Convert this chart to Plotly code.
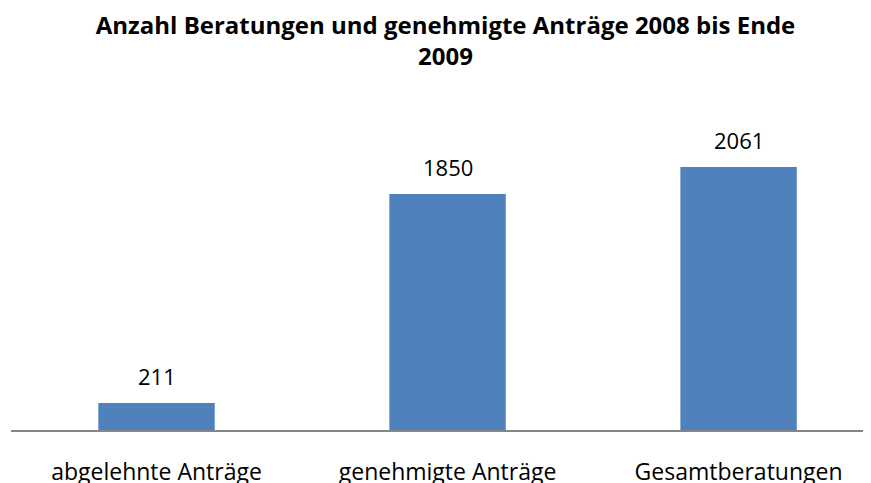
import plotly.graph_objects as go

categories = ["abgelehnte Anträge", "genehmigte Anträge", "Gesamtberatungen"]
values = [211, 1850, 2061]
title_text = "Anzahl Beratungen und genehmigte Anträge 2008 bis Ende<br>2009"

FONT = "Open Sans, sans-serif"

fig = go.Figure()
fig.add_trace(go.Bar(
    x=categories, y=values,
    marker=dict(color="#4F81BD", line=dict(width=0)),
    width=0.4,
    hoverinfo="x+y",
))

for c, v in zip(categories, values):
    fig.add_annotation(x=c, y=v, text=str(v), showarrow=False,
                       yanchor="bottom", yshift=10,
                       font=dict(family=FONT, size=22, color="#000000"))

fig.update_layout(
    width=863, height=475,
    margin=dict(l=3, r=0, t=92, b=53),
    paper_bgcolor="white", plot_bgcolor="white",
    showlegend=False,
    title=dict(text="<b>" + title_text + "</b>", x=0.507, xanchor="center",
               y=0.946, yanchor="top",
               font=dict(family=FONT, size=24, color="#000000")),
    xaxis=dict(range=[-0.5, 2.455], showline=True, linecolor="#868686", linewidth=2,
               ticks="", showgrid=False, zeroline=False, automargin=False,
               tickfont=dict(family=FONT, size=23, color="#000000"),
               ticklabelstandoff=20),
    yaxis=dict(range=[0, 2586], visible=False, showgrid=False, zeroline=False,
               automargin=False),
)

fig.write_html("out.html")
